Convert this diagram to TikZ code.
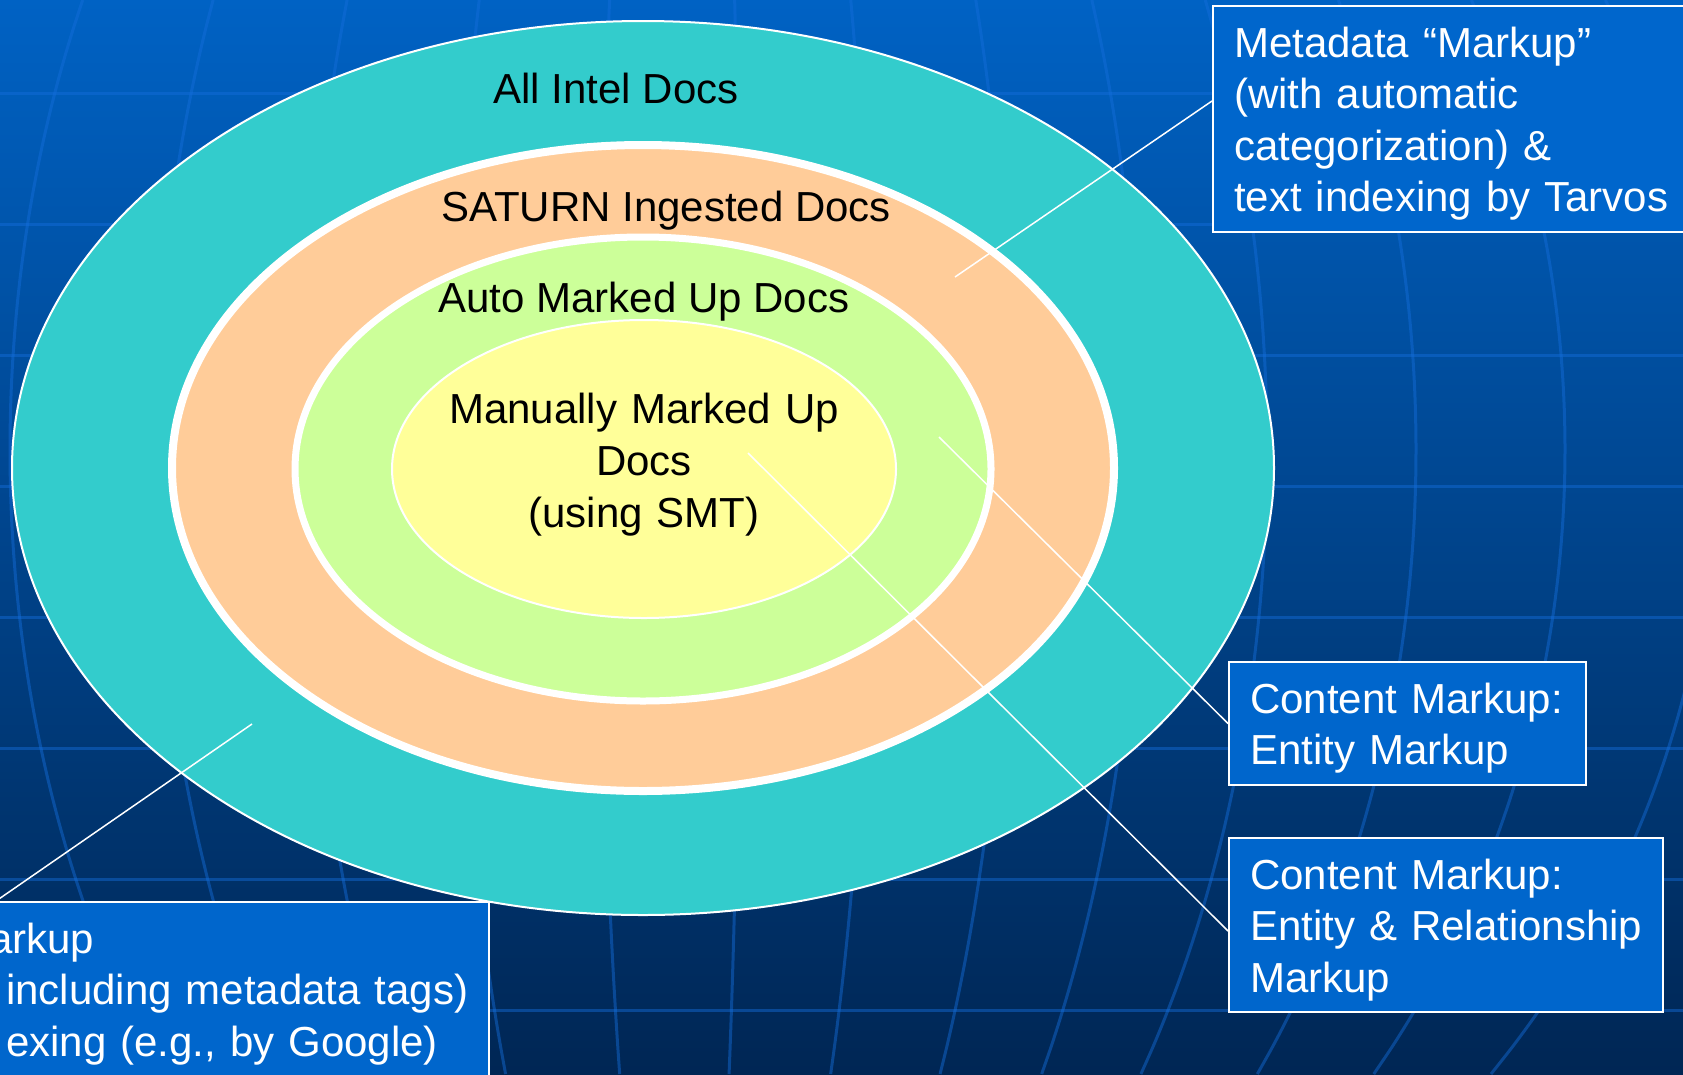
\documentclass[tikz,border=0pt]{standalone}
\usepackage{fontspec}
\setmainfont{Liberation Sans}
\definecolor{bgtop}{RGB}{0,98,196}
\definecolor{bgbot}{RGB}{0,38,84}
\definecolor{gridblue}{RGB}{20,110,220}
\definecolor{allteal}{RGB}{51,204,204}
\definecolor{saturnorange}{RGB}{255,204,153}
\definecolor{autogreen}{RGB}{204,255,153}
\definecolor{manualyellow}{RGB}{255,255,153}
\definecolor{boxblue}{RGB}{0,102,204}
\tikzstyle{gridline}=[gridblue, opacity=0.45, line width=3pt]
\tikzstyle{ring}=[draw=white]
\tikzstyle{docslabel}=[font=\fontsize{42}{52}\selectfont, anchor=base, inner sep=0pt]
\tikzstyle{markbox}=[draw=white, line width=2pt, fill=boxblue, text=white, font=\fontsize{42}{51.5}\selectfont, align=left, anchor=north west, inner xsep=21pt, inner ysep=0pt, text height=51pt]
\tikzstyle{callout}=[draw=white, line width=1.5pt]

\begin{document}
\begin{tikzpicture}[x=1pt, y=-1pt]
    \useasboundingbox (0,0) rectangle (1683,1074);
    \clip (0,0) rectangle (1683,1074);
    \fill[top color=bgtop, bottom color=bgbot] (0,0) rectangle (1683,1074);
    \foreach \gy in {93,224,...,1010}
        \draw[gridline] (0,\gy) -- (1683,\gy);
    \foreach \ga in {-680,-534,-384,-236,-90,50,180,320,450,577,726,875,1025}
        \draw[gridline] plot[domain=0:1074, samples=40, smooth, variable=\t] ({690+(\ga)*sqrt(1-((\t-450)/1000)^2)}, {\t});

    \filldraw[ring, fill=allteal, line width=2pt] (643,468) ellipse (631 and 447);
    \filldraw[ring, fill=saturnorange, line width=8pt] (643,468) ellipse (471 and 323);
    \filldraw[ring, fill=autogreen, line width=7pt] (643,469) ellipse (348 and 232);
    \filldraw[ring, fill=manualyellow, line width=2pt] (644,469) ellipse (252 and 149);

    \node[docslabel] (alldocs) at (616,103) {All Intel Docs};
    \node[docslabel] (saturn) at (666,221) {SATURN Ingested Docs};
    \node[docslabel] (auto) at (644,312) {Auto Marked Up Docs};
    \node[docslabel, text width=440pt, align=center] (manual) at (644,423) {Manually Marked Up\\Docs\\(using SMT)};

    \coordinate (pMeta) at (955,277);
    \coordinate (pEnt) at (939,437);
    \coordinate (pRel) at (748,453);
    \coordinate (pStruct) at (252,724);

    \node[markbox, text width=446pt, text depth=175pt] (metabox) at (1212,5) {\mbox{Metadata “Markup”}\\\mbox{(with automatic}\\\mbox{categorization) \&}\\\mbox{text indexing by Tarvos}};
    \node[markbox, text width=315pt, text depth=72pt] (entbox) at (1228,661) {\mbox{Content Markup:}\\\mbox{Entity Markup}};
    \node[markbox, text width=392pt, text depth=123pt] (relbox) at (1228,837) {\mbox{Content Markup:}\\\mbox{Entity \& Relationship}\\Markup};
    \node[markbox, text width=462pt, text depth=200pt] (structbox) at (-16,901) {\hspace*{-17pt}arkup\\\mbox{including metadata tags)}\\\mbox{exing (e.g., by Google)}};

    \draw[callout] (pMeta) -- ([yshift=18pt]metabox.west);
    \draw[callout] (pEnt) -- (entbox.west);
    \draw[callout] (pRel) -- ([yshift=-6pt]relbox.west);
    \draw[callout] (pStruct) -- ([xshift=12pt]structbox.north west);
\end{tikzpicture}
\end{document}
